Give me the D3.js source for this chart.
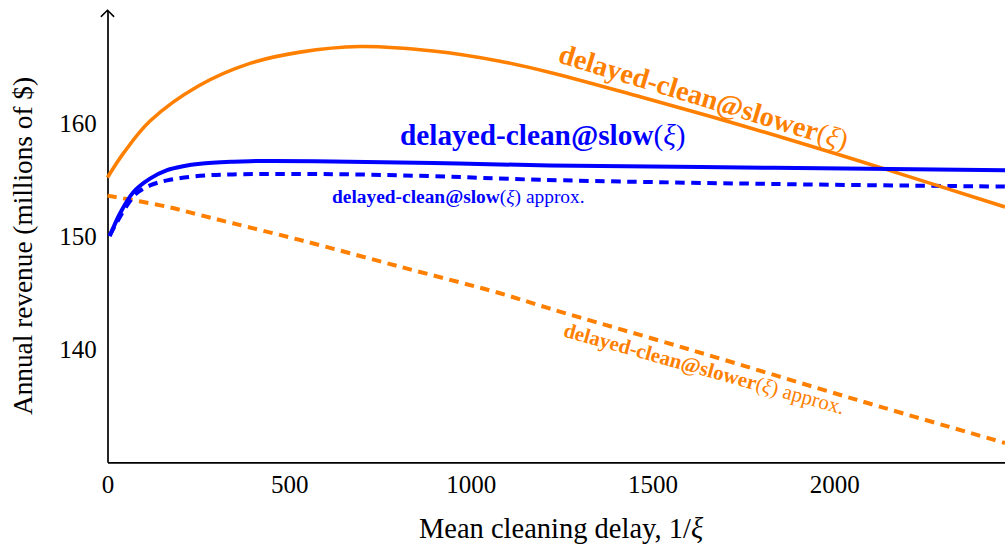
<!DOCTYPE html>
<html><head><meta charset="utf-8">
<script src="https://cdn.jsdelivr.net/npm/d3@7"></script>
<style>
body{margin:0;background:#fff}
svg{display:block}
text{font-family:"Liberation Serif","Times New Roman",serif}
</style>
</head><body>
<svg id="c" width="1005" height="549"></svg>
<script>
// ---- data ----
const xTicks = [0, 500, 1000, 1500, 2000];
const yTicks = [140, 150, 160];

const slowerX = [0, 45, 117, 250, 392, 530, 695, 896, 1080, 1218, 1466, 1741, 2016, 2145, 2470];
const slowerY = [155.2, 157.4, 160.2, 163.3, 165.3, 166.3, 166.8, 166.4, 165.5, 164.5, 162.35, 159.85, 157.2, 155.9, 152.6];

const slowX = [6, 34, 71, 117, 164, 208, 255, 345, 392, 620, 896, 1218, 1832, 2470];
const slowY = [150.0, 152.0, 153.9, 155.1, 155.85, 156.2, 156.42, 156.6, 156.65, 156.63, 156.48, 156.27, 156.06, 155.85];

const slowApproxX = [6, 20, 48, 80, 117, 164, 255, 345, 620, 896, 1190, 1832, 2470];
const slowApproxY = [150.1, 150.9, 152.45, 153.8, 154.5, 154.95, 155.35, 155.48, 155.5, 155.32, 155.0, 154.63, 154.4];

const slowerApproxX = [0, 164, 255, 345, 530, 805, 1080, 1218, 1600, 2063, 2470];
const slowerApproxY = [153.6, 152.62, 151.88, 151.15, 149.67, 147.31, 144.96, 143.6, 140.0, 135.52, 131.71];

const xTitle = ["Mean cleaning delay, ", "1/", "ξ"];
const yTitle = "Annual revenue (millions of $)";

const ORANGE = "#ff8000", BLUE = "#0000ff";

// ---- scales ----
const svg = d3.select("#c");
const x = d3.scaleLinear().domain([0, 2470]).range([107.5, 1005]);
const y = d3.scaleLinear().domain([130, 170]).range([462.3, 10.3]);

// ---- axes ----
const xAxis = svg.append("g").attr("transform", `translate(0,${y(130)})`)
  .call(d3.axisBottom(x).tickValues(xTicks).tickSize(0).tickSizeOuter(0).tickPadding(12.6).tickFormat(d3.format("d")));
const yAxis = svg.append("g").attr("transform", `translate(${x(0)},0)`)
  .call(d3.axisLeft(y).tickValues(yTicks).tickSize(0).tickSizeOuter(0).tickPadding(10.8).tickFormat(d3.format("d")));
[xAxis, yAxis].forEach(a => {
  a.select(".domain").attr("stroke", "#000").attr("stroke-width", 1.7);
  a.selectAll("text").attr("font-family", "Liberation Serif, serif").attr("font-size", 25).attr("fill", "#000");
});
// arrow head on y axis
const ax = x(0), ay = y(170);
svg.append("path")
  .attr("d", `M${ax-6.2},${ay+6} Q${ax-2},${ay+2} ${ax},${ay} Q${ax+2},${ay+2} ${ax+6.2},${ay+6}`)
  .attr("fill", "none").attr("stroke", "#000").attr("stroke-width", 1.6).attr("stroke-linecap", "round");

// ---- lines ----
const line = d3.line().x(d => x(d[0])).y(d => y(d[1])).curve(d3.curveCatmullRom.alpha(0.5));
function drawSeries(xs, ys, color, width, dash) {
  svg.append("path")
    .datum(xs.map((v, i) => [v, ys[i]]))
    .attr("d", line)
    .attr("fill", "none")
    .attr("stroke", color)
    .attr("stroke-width", width)
    .attr("stroke-dasharray", dash || null);
}
drawSeries(slowerApproxX, slowerApproxY, ORANGE, 4, "9.5,6.5");
drawSeries(slowApproxX, slowApproxY, BLUE, 4, "9.5,6.5");
drawSeries(slowerX, slowerY, ORANGE, 3.6);
drawSeries(slowX, slowY, BLUE, 4);

// ---- labels ----
function label(parts, at, size, color, angle) {
  const t = svg.append("text")
    .attr("transform", `translate(${x(at[0])},${y(at[1])}) rotate(${angle || 0})`)
    .attr("font-size", size).attr("fill", color);
  parts.forEach(p => t.append("tspan").text(p[0])
    .attr("font-weight", p[1] === "b" ? "bold" : "normal")
    .attr("font-style", p[1] === "i" ? "italic" : "normal"));
  return t;
}
label([["delayed-clean@slow", "b"], ["(", "n"], ["ξ", "i"], [")", "n"]], [805, 158.08], 29.3, BLUE, 0);
label([["delayed-clean@slow", "b"], ["(", "n"], ["ξ", "i"], [") approx.", "n"]], [618, 152.95], 19.4, BLUE, 0);
label([["delayed-clean@slower", "b"], ["(", "n"], ["ξ", "i"], [")", "n"]], [1237, 165.42], 28.3, ORANGE, 17);
label([["delayed-clean@slower", "b"], ["(", "n"], ["ξ", "i"], [") approx.", "n"]], [1252, 141.15], 20.9, ORANGE, 15.6);

// ---- axis titles ----
const xt = svg.append("text").attr("x", 561).attr("y", 538).attr("text-anchor", "middle")
  .attr("font-size", 28.5).attr("fill", "#000");
xt.append("tspan").text(xTitle[0]);
xt.append("tspan").text(xTitle[1]);
xt.append("tspan").text(xTitle[2]).attr("font-style", "italic");

svg.append("text").attr("transform", "translate(32,246) rotate(-90)").attr("text-anchor", "middle")
  .attr("font-size", 27.3).attr("fill", "#000").text(yTitle);
</script>
</body></html>
